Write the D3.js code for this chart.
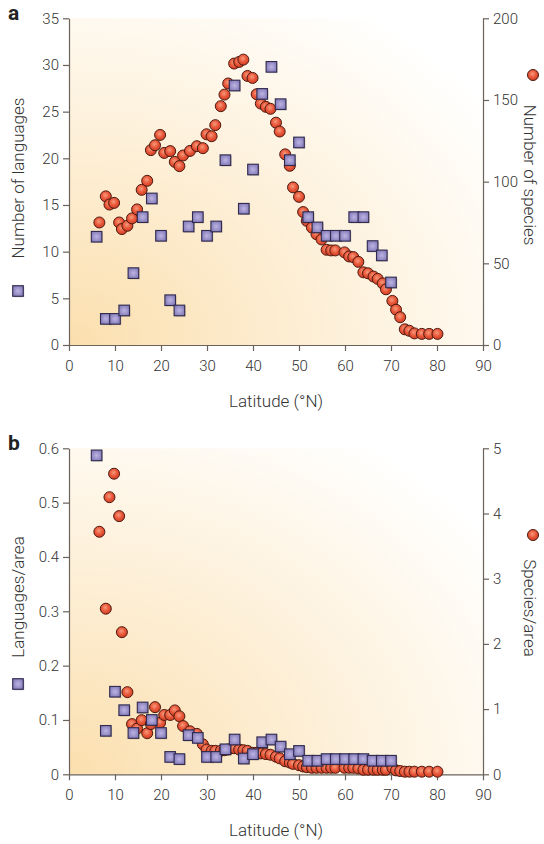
<!DOCTYPE html>
<html>
<head>
<meta charset="utf-8">
<script src="https://cdn.jsdelivr.net/npm/d3@7"></script>
<style>
  body { margin: 0; background: #fff; }
  svg text { font-family: Roboto, "Open Sans", sans-serif; fill: #333; font-weight: 300; }
  .axis path, .axis line { stroke: #6b625a; stroke-width: 1.2; }
  .axis text { fill: #333; }
</style>
</head>
<body>
<svg id="chart" width="544" height="844"></svg>
<script>
// languages: one point every 2 degrees
var langLat = [6, 8, 10, 12, 14, 16, 18, 20, 22, 24, 26, 28, 30, 32, 34, 36, 38,
               40, 42, 44, 46, 48, 50, 52, 54, 56, 58, 60, 62, 64, 66, 68, 70];
var langCount = [11.6, 2.8, 2.8, 3.7, 7.7, 13.7, 15.7, 11.7, 4.8, 3.7, 12.7, 13.7, 11.7, 12.7, 19.8, 27.8, 14.6,
                 18.8, 26.9, 29.8, 25.8, 19.8, 21.7, 13.7, 12.6, 11.7, 11.7, 11.7, 13.7, 13.7, 10.6, 9.6, 6.7];
var langPerArea = [0.587, 0.080, 0.152, 0.118, 0.076, 0.123, 0.100, 0.076, 0.032, 0.028, 0.072, 0.067, 0.032, 0.032, 0.046, 0.064, 0.029,
                   0.037, 0.059, 0.064, 0.051, 0.037, 0.043, 0.025, 0.025, 0.028, 0.028, 0.028, 0.028, 0.028, 0.025, 0.025, 0.025];

// species (birds)
var spLat = [6.6, 8.0, 8.8, 9.8, 10.9, 11.5, 12.7, 13.7, 14.8, 15.8, 17.0, 17.8, 18.7, 19.8, 20.7, 22.0, 23.0, 24.0,
             24.8, 26.3, 27.8, 29.1, 29.9, 31.0, 31.8, 33.0, 33.8, 34.6, 35.9, 37.0, 37.9, 38.8, 39.9, 40.8, 41.7,
             42.8, 43.8, 45.0, 45.8, 47.0, 48.0, 48.7, 50.0, 50.9, 51.7, 52.8, 53.8, 54.9, 56.0, 57.0, 57.9, 59.9,
             60.9, 61.8, 62.9, 64.0, 65.0, 66.2, 67.1, 68.2, 68.9, 70.3, 71.1, 72.0, 73.0, 74.0, 75.1, 76.7, 78.3, 80.1];
var spCount = [75, 91, 86, 87, 75, 71, 73, 77.5, 83, 95, 100.5, 119.3, 122.3, 128.6, 117.6, 118.7, 112.1, 109.5,
               116, 118.8, 121.7, 120.5, 129, 127.8, 134.6, 146.2, 153.3, 160.1, 172.3, 173.3, 174.7, 164.7, 163.5, 153.5, 147.8,
               145.8, 144.6, 136.1, 130.7, 116.7, 109.7, 96.5, 90.7, 81.4, 76, 71.9, 67.8, 64.6, 58.3, 57.9, 57.9, 56.7,
               54.2, 53.8, 50.9, 44.5, 43.9, 41.9, 40.5, 37.7, 34.1, 27, 21.6, 17, 9.6, 8.7, 7.1, 6.8, 6.8, 6.8];
var spPerArea = [3.72, 2.54, 4.25, 4.61, 3.96, 2.18, 1.26, 0.77, 0.70, 0.83, 0.63, 0.77, 1.03, 0.79, 0.91, 0.91, 0.98, 0.89,
                 0.74, 0.66, 0.62, 0.46, 0.38, 0.36, 0.36, 0.36, 0.37, 0.38, 0.40, 0.38, 0.37, 0.36, 0.33, 0.33, 0.32,
                 0.31, 0.30, 0.27, 0.245, 0.20, 0.18, 0.16, 0.14, 0.12, 0.11, 0.10, 0.10, 0.10, 0.10, 0.10, 0.10, 0.10,
                 0.10, 0.10, 0.09, 0.07, 0.07, 0.07, 0.07, 0.07, 0.07, 0.10, 0.06, 0.05, 0.04, 0.04, 0.04, 0.04, 0.04, 0.04];

var xTicks = [0, 10, 20, 30, 40, 50, 60, 70, 80, 90];
var langTicksA = [0, 5, 10, 15, 20, 25, 30, 35];
var spTicksA = [0, 50, 100, 150, 200];
var langTicksB = [0, 0.1, 0.2, 0.3, 0.4, 0.5, 0.6];
var spTicksB = [0, 1, 2, 3, 4, 5];

var svg = d3.select("#chart");
var defs = svg.append("defs");

var bg = defs.append("radialGradient").attr("id", "bg")
    .attr("cx", 0).attr("cy", 1).attr("r", 1.25);
bg.append("stop").attr("offset", "0%").attr("stop-color", "#fbdfae");
bg.append("stop").attr("offset", "45%").attr("stop-color", "#fdeed4");
bg.append("stop").attr("offset", "100%").attr("stop-color", "#ffffff");

var dot = defs.append("radialGradient").attr("id", "dot")
    .attr("cx", 0.45).attr("cy", 0.4).attr("r", 0.6);
dot.append("stop").attr("offset", "0%").attr("stop-color", "#f79a7c");
dot.append("stop").attr("offset", "55%").attr("stop-color", "#e9573a");
dot.append("stop").attr("offset", "100%").attr("stop-color", "#cf3e24");

var sq = defs.append("radialGradient").attr("id", "sq")
    .attr("cx", 0.5).attr("cy", 0.5).attr("r", 0.65);
sq.append("stop").attr("offset", "0%").attr("stop-color", "#bcb4e2");
sq.append("stop").attr("offset", "100%").attr("stop-color", "#7c73b3");

var x = d3.scaleLinear().domain([0, 90]).range([69, 483]);

function square(g, cx, cy) {
  g.append("rect").attr("x", cx - 4.3).attr("y", cy - 4.3)
      .attr("width", 10.6).attr("height", 10.6).attr("fill", "rgba(0,0,0,0.18)");
  g.append("rect").attr("x", cx - 5.3).attr("y", cy - 5.3)
      .attr("width", 10.6).attr("height", 10.6)
      .attr("fill", "url(#sq)").attr("stroke", "#2f2a4e").attr("stroke-width", 1.1);
}
function circle(g, cx, cy) {
  g.append("circle").attr("cx", cx).attr("cy", cy).attr("r", 5.5)
      .attr("fill", "url(#dot)").attr("stroke", "#4d1a0f").attr("stroke-width", 1);
}

function panel(p) {
  var yL = d3.scaleLinear().domain(p.lDomain).range([p.bottom, p.top]);
  var yR = d3.scaleLinear().domain(p.rDomain).range([p.bottom, p.top]);
  var g = svg.append("g");

  g.append("rect").attr("x", x(0)).attr("y", p.top)
      .attr("width", x(90) - x(0)).attr("height", p.bottom - p.top)
      .attr("fill", "url(#bg)");

  g.append("g").attr("class", "axis")
      .attr("transform", "translate(" + x(0) + ",0)")
      .call(d3.axisLeft(yL).tickValues(p.lTicks).tickSize(6).tickSizeOuter(0).tickPadding(4).tickFormat(d3.format("")));
  g.append("g").attr("class", "axis")
      .attr("transform", "translate(" + x(90) + ",0)")
      .call(d3.axisRight(yR).tickValues(p.rTicks).tickSize(6).tickSizeOuter(0).tickPadding(4).tickFormat(d3.format("")));
  g.append("g").attr("class", "axis")
      .attr("transform", "translate(0," + p.bottom + ")")
      .call(d3.axisBottom(x).tickValues(xTicks).tickSize(6).tickSizeOuter(0).tickPadding(9));
  g.selectAll(".axis text").style("font-size", "15px").style("font-family", "Roboto, sans-serif");
  g.selectAll(".domain").attr("fill", "none");

  // species first, languages drawn over them
  var dots = g.append("g");
  p.sp.forEach(function(v, i) { circle(dots, x(spLat[i]), yR(v)); });
  var sqs = g.append("g");
  p.lang.forEach(function(v, i) { square(sqs, x(langLat[i]), yL(v)); });

  g.append("text").attr("x", 8).attr("y", p.top + 2).text(p.letter)
      .style("font-size", "21px").style("font-weight", "bold").style("fill", "#222");

  g.append("text").attr("transform", "translate(24," + p.lMid + ") rotate(-90)")
      .attr("text-anchor", "middle").style("font-size", "17px").text(p.lTitle);
  square(g, 18, p.lIcon);

  g.append("text").attr("transform", "translate(524," + p.rMid + ") rotate(90)")
      .attr("text-anchor", "middle").style("font-size", "17px").text(p.rTitle);
  circle(g, 533, p.rIcon);

  g.append("text").attr("x", 276).attr("y", p.bottom + 62)
      .attr("text-anchor", "middle").style("font-size", "17px").text("Latitude (°N)");
}

panel({
  letter: "a", top: 18.3, bottom: 345,
  lDomain: [0, 35], lTicks: langTicksA, rDomain: [0, 200], rTicks: spTicksA,
  lang: langCount, sp: spCount,
  lTitle: "Number of languages", lMid: 178, lIcon: 291,
  rTitle: "Number of species", rMid: 175, rIcon: 75
});

panel({
  letter: "b", top: 448.3, bottom: 774.3,
  lDomain: [0, 0.6], lTicks: langTicksB, rDomain: [0, 5], rTicks: spTicksB,
  lang: langPerArea, sp: spPerArea,
  lTitle: "Languages/area", lMid: 597, lIcon: 684,
  rTitle: "Species/area", rMid: 608, rIcon: 535
});
</script>
</body>
</html>
